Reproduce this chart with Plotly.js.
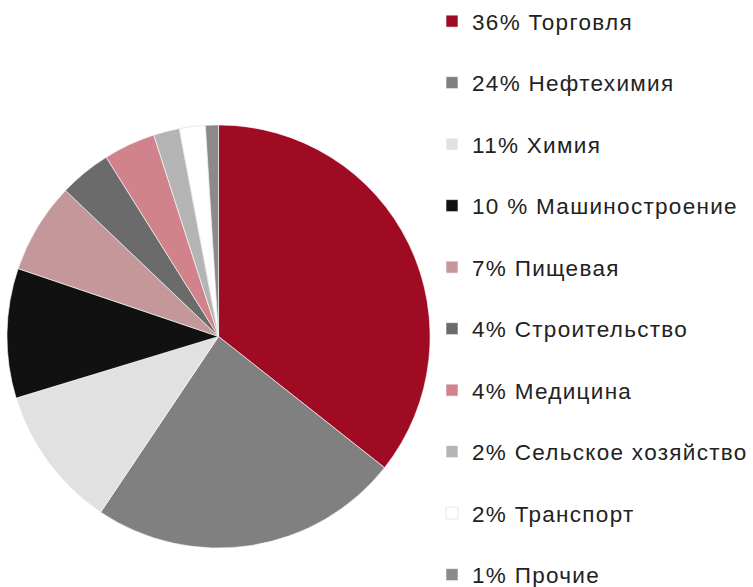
<!DOCTYPE html>
<html><head><meta charset="utf-8">
<script src="https://cdn.plot.ly/plotly-3.0.1.min.js"></script>
<style>html,body{margin:0;padding:0;background:#fff}#chart{width:753px;height:587px}
.legendtext{letter-spacing:1.3px}</style>
</head><body><div id="chart"></div>
<script>
const categories = ["Торговля","Нефтехимия","Химия","Машиностроение","Пищевая","Строительство","Медицина","Сельское хозяйство","Транспорт","Прочие"];
const values = [36,24,11,10,7,4,4,2,2,1];
const legendLabels = ["36% Торговля","24% Нефтехимия","11% Химия","10 % Машиностроение","7% Пищевая","4% Строительство","4% Медицина","2% Сельское хозяйство","2% Транспорт","1% Прочие"];
const colors = ["#A00B24","#808080","#E1E1E1","#111111","#C4979B","#6B6B6B","#D0838A","#B4B4B4","#FFFFFF","#8A8A8A"];
const lineColors = ["#ffffff","#ffffff","#ffffff","#ffffff","#ffffff","#ffffff","#ffffff","#ffffff","#D8D8D8","#ffffff"];

const trace = {
  type: "pie",
  labels: legendLabels.map(s => s + "<br> "),
  values: values,
  customdata: categories,
  sort: false,
  direction: "clockwise",
  rotation: 0,
  textinfo: "none",
  hoverinfo: "label+percent",
  marker: {colors: colors, line: {color: lineColors, width: 0.6}},
  domain: {x: [7/753, 433/753], y: [1-549/587, 1-124/587]}
};
const layout = {
  width: 753, height: 587,
  margin: {l:0, r:0, t:0, b:0},
  paper_bgcolor: "#fff",
  showlegend: true,
  legend: {
    x: 435/753, y: 1.0, xanchor: "left", yanchor: "top",
    bgcolor: "rgba(0,0,0,0)",
    font: {family: "Liberation Sans, Arial, sans-serif", size: 22.5, color: "#222"},
    valign: "top",
    itemwidth: 30,
    maxheight: 2000,
    traceorder: "normal"
  }
};
Plotly.newPlot("chart", [trace], layout, {displayModeBar: false});
</script></body></html>
